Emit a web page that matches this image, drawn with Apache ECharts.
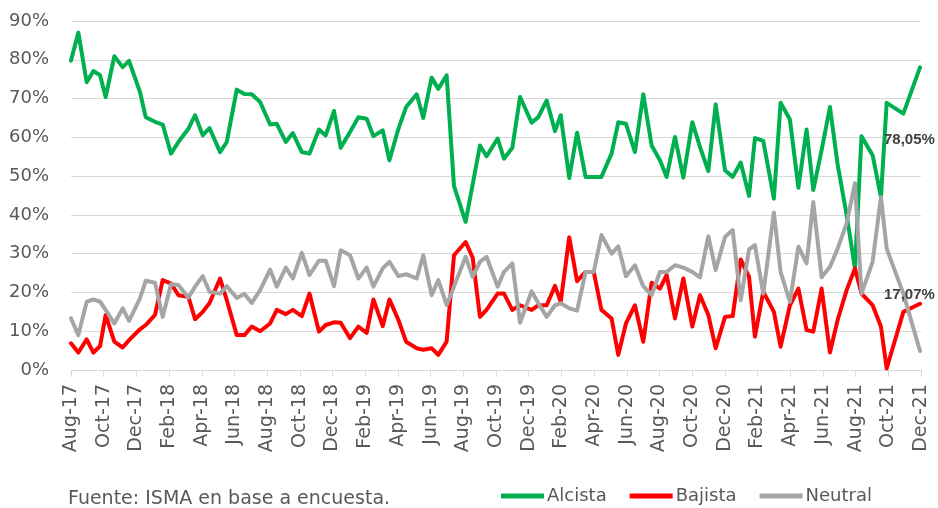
<!DOCTYPE html>
<html>
<head>
<meta charset="utf-8">
<script src="https://cdn.jsdelivr.net/npm/echarts@6/dist/echarts.min.js"></script>
<style>
  html, body { margin: 0; padding: 0; background: #fff; }
  #chart { width: 938px; height: 508px; }
</style>
</head>
<body>
<div id="chart"></div>
<script>
// etiquetas del eje X, cada 2 meses desde Aug-17
const tickLabels = ['Aug-17', 'Oct-17', 'Dec-17', 'Feb-18', 'Apr-18', 'Jun-18', 'Aug-18', 'Oct-18', 'Dec-18',
  'Feb-19', 'Apr-19', 'Jun-19', 'Aug-19', 'Oct-19', 'Dec-19', 'Feb-20', 'Apr-20', 'Jun-20', 'Aug-20',
  'Oct-20', 'Dec-20', 'Feb-21', 'Apr-21', 'Jun-21', 'Aug-21', 'Oct-21', 'Dec-21'];

// fecha de cada encuesta, en meses desde Aug-17
const meses = [0, 0.45, 0.96, 1.37, 1.78, 2.12, 2.65, 3.16, 3.55, 4.22, 4.57, 5.14, 5.61, 6.12, 6.57, 7.18,
  7.59, 8.06, 8.47, 9.12, 9.53, 10.14, 10.61, 11.06, 11.57, 12.18, 12.59, 13.14, 13.57, 14.12, 14.59,
  15.17, 15.58, 16.09, 16.5, 17.07, 17.58, 18.09, 18.5, 19.07, 19.48, 20.03, 20.5, 21.15, 21.55, 22.06,
  22.47, 22.98, 23.43, 24.14, 24.57, 25.02, 25.42, 26.1, 26.49, 27.0, 27.47, 28.18, 28.59, 29.1, 29.61,
  29.96, 30.48, 30.96, 31.48, 31.98, 32.45, 33.07, 33.48, 33.95, 34.5, 35.01, 35.52, 36.03, 36.44, 36.95,
  37.46, 38.01, 38.48, 38.99, 39.44, 40.01, 40.48, 40.97, 41.48, 41.84, 42.35, 43.0, 43.41, 43.98, 44.5,
  45.0, 45.41, 45.92, 46.43, 46.9, 47.45, 47.96, 48.36, 49.04, 49.55, 49.9, 50.92, 51.94];

const alcista = [79.8, 87, 74.2, 77.1, 76, 70.4, 80.9, 78.1, 79.7, 71.7, 65.2, 64, 63.3, 55.8, 58.8, 62.2,
  65.7, 60.5, 62.4, 56.2, 58.8, 72.3, 71.2, 71.1, 69.1, 63.3, 63.5, 58.8, 61.1, 56.2, 55.8,
  62, 60.5, 66.8, 57.3, 61.4, 65.2, 64.8, 60.3, 61.8, 54.1, 62.2, 67.8, 71.1, 65, 75.4,
  72.5, 76, 47.5, 38.2, 47.8, 57.9, 55.1, 59.7, 54.5, 57.3, 70.4, 63.8, 65.2, 69.5, 61.6,
  65.7, 49.5, 61.2, 49.8, 49.8, 49.8, 55.8, 63.9, 63.5, 56.2, 71.1, 57.9, 54.1, 49.8, 60.1,
  49.6, 63.9, 57.5, 51.3, 68.5, 51.5, 49.8, 53.5, 44.9, 59.8, 59.1, 44.2, 68.9, 64.6, 47,
  62, 46.4, 56.7, 67.8, 53, 40, 26.2, 60.3, 55.4, 44.6, 68.9, 66.1, 78.05];

const bajista = [6.9, 4.5, 7.9, 4.5, 6.2, 14.2, 7.3, 5.8, 7.7, 10.5, 11.6, 14.2, 23.2, 22.3, 19.3, 18.9,
  13.1, 15, 17.2, 23.6, 18, 9, 9, 11.2, 10, 12, 15.5, 14.4, 15.5, 13.9, 19.7,
  9.9, 11.6, 12.3, 12.2, 8.2, 11.2, 9.6, 18.2, 11.3, 18.2, 12.9, 7.3, 5.6, 5.2, 5.6,
  3.9, 7.3, 29.6, 33, 29, 13.7, 15.5, 19.7, 19.7, 15.5, 16.7, 15.5, 16.7, 16.7, 21.7,
  17.6, 34.2, 22.9, 25.3, 25.3, 15.5, 13.3, 3.9, 12, 16.7, 7.3, 22.5, 21, 24.5, 13.3,
  23.6, 11.2, 19.3, 14.2, 5.6, 13.7, 13.9, 28.5, 24, 8.6, 20.2, 15, 6, 16.7, 21,
  10.3, 9.9, 21, 4.5, 12.9, 20.6, 26.2, 19.7, 16.7, 11.2, 0.4, 15, 17.07];

const neutral = [13.3, 9, 17.6, 18.2, 17.6, 15.5, 12, 15.9, 12.7, 18.5, 23, 22.5, 13.7, 22.1, 21.9, 18.7,
  21.5, 24.2, 20.2, 19.7, 21.6, 18.6, 19.6, 17.3, 20.6, 25.9, 21.5, 26.4, 23.6, 30.2, 24.5,
  28.2, 28.2, 21.6, 30.9, 29.6, 23.6, 26.4, 21.5, 26.2, 27.9, 24.2, 24.7, 23.6, 29.6, 19.3,
  23.2, 16.7, 21.5, 29.2, 24, 27.9, 29.2, 21.5, 25.3, 27.5, 12.2, 20.3, 17.2, 13.7, 16.7,
  17.2, 15.9, 15.3, 25.3, 25.3, 34.8, 30, 31.9, 24.2, 27, 21.6, 19.3, 25.3, 25.3, 27,
  26.4, 25.3, 23.9, 34.5, 25.8, 34.3, 36.1, 18, 31.1, 32.2, 19.7, 40.6, 25.3, 17.6, 31.8,
  27.5, 43.3, 23.9, 26.6, 31.3, 37.8, 48.2, 19.7, 27.9, 44.6, 31.3, 19.7, 4.9];

const pares = vals => meses.map((m, i) => [m, vals[i]]);

const fuente = 'DejaVu Sans';
const chart = echarts.init(document.getElementById('chart'), null, { renderer: 'canvas' });

function serie(name, color, vals, withLabel, offset) {
  return {
    name: name,
    type: 'line',
    data: pares(vals),
    symbol: 'none',
    lineStyle: { color: color, width: 4, cap: 'round', join: 'round' },
    itemStyle: { color: color },
    emphasis: { disabled: true },
    endLabel: {
      show: withLabel,
      formatter: p => p.value[1].toFixed(2).replace('.', ',') + '%',
      offset: offset,
      fontFamily: 'Liberation Sans',
      fontWeight: 'bold',
      fontSize: 15,
      color: '#404040'
    }
  };
}

var option = {
  animation: false,
  title: {
    text: 'Fuente: ISMA en base a encuesta.',
    left: 63,
    top: 485,
    textStyle: { fontFamily: fuente, fontSize: 19, fontWeight: 'normal', color: '#595959' }
  },
  legend: {
    left: 496,
    top: 482,
    itemWidth: 43,
    itemHeight: 5,
    itemGap: 23,
    icon: 'rect',
    textStyle: { fontFamily: fuente, fontSize: 18, color: '#595959', padding: [0, 0, 0, -2] },
    data: ['Alcista', 'Bajista', 'Neutral']
  },
  grid: { left: 71, right: 17, top: 21, bottom: 138 },
  xAxis: {
    type: 'value',
    min: 0,
    max: 52,
    interval: 2,
    axisLine: { show: true, lineStyle: { color: '#D9D9D9', width: 1 } },
    axisTick: { show: true, length: 7, lineStyle: { color: '#D9D9D9' } },
    splitLine: { show: false },
    axisLabel: {
      rotate: 90,
      margin: 14,
      fontFamily: fuente,
      fontSize: 19,
      color: '#595959',
      formatter: v => tickLabels[Math.round(v / 2)] || ''
    }
  },
  yAxis: {
    type: 'value',
    min: 0,
    max: 90,
    interval: 10,
    axisLine: { show: false },
    axisTick: { show: false },
    splitLine: { lineStyle: { color: '#D9D9D9', width: 1 } },
    axisLabel: {
      margin: 22,
      fontFamily: fuente,
      fontSize: 18,
      color: '#595959',
      formatter: '{value}%'
    }
  },
  series: [
    serie('Alcista', '#00B050', alcista, true, [-44, 73]),
    serie('Bajista', '#FF0000', bajista, true, [-44, -9]),
    serie('Neutral', '#A5A5A5', neutral, false, [0, 0])
  ]
};

chart.setOption(option);
</script>
</body>
</html>
